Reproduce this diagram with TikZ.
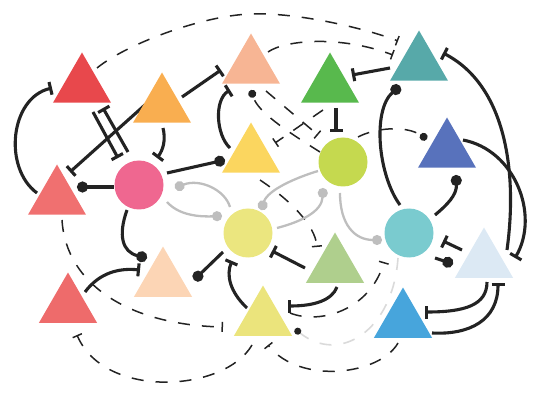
\documentclass[tikz,border=0pt]{standalone}
\usetikzlibrary{shapes.geometric,arrows.meta,calc}
\pgfdeclarelayer{bg}
\pgfsetlayers{bg,main}
\definecolor{cTa}{HTML}{E8484C}
\definecolor{cTb}{HTML}{F9AE50}
\definecolor{cTc}{HTML}{F7B594}
\definecolor{cTd}{HTML}{58B94D}
\definecolor{cTe}{HTML}{57A9A9}
\definecolor{cTf}{HTML}{FBD65F}
\definecolor{cTg}{HTML}{5872BC}
\definecolor{cTh}{HTML}{F07070}
\definecolor{cTi}{HTML}{FCD5B5}
\definecolor{cTj}{HTML}{EE6B6B}
\definecolor{cTk}{HTML}{AFCF8D}
\definecolor{cTl}{HTML}{EBE47C}
\definecolor{cTm}{HTML}{47A5DC}
\definecolor{cTn}{HTML}{DCE9F4}
\definecolor{cCa}{HTML}{EF6790}
\definecolor{cCb}{HTML}{C5D94F}
\definecolor{cCc}{HTML}{EBE67F}
\definecolor{cCd}{HTML}{7ACBCF}
\definecolor{edgecol}{HTML}{232323}
\definecolor{graycol}{HTML}{BEBEBE}
\definecolor{lgraycol}{HTML}{DADADA}
\tikzset{
  tri/.style={regular polygon, regular polygon sides=3, minimum size=67pt, inner sep=0pt, draw=none, fill=#1},
  circ/.style={circle, minimum size=49pt, inner sep=0pt, draw=none, fill=#1},
  inh/.style={line width=3.1pt, draw=edgecol, -{Bar[width=13pt]}},
  act/.style={line width=3.1pt, draw=edgecol, -{Circle[length=11pt]}},
  dinh/.style={line width=1.5pt, draw=edgecol, dash pattern=on 12pt off 12pt, -{Bar[width=10pt]}},
  dact/.style={line width=1.5pt, draw=edgecol, dash pattern=on 12pt off 12pt, -{Circle[length=8pt]}},
  gact/.style={line width=2.3pt, draw=graycol, -{Circle[length=10pt]}},
  lgact/.style={line width=1.6pt, draw=lgraycol, dash pattern=on 12pt off 12pt, -{Circle[length=7pt,color=edgecol,fill=edgecol]}},
}
\begin{document}
\begin{tikzpicture}[x=1pt,y=-1pt]
\useasboundingbox (0,0) rectangle (550,404);
% nodes
\node[tri=cTa] (T1) at (82,86) {};
\node[tri=cTb] (T2) at (162,106) {};
\node[tri=cTc] (T3) at (251,67) {};
\node[tri=cTd] (T4) at (330,86) {};
\node[tri=cTe] (T5) at (419,64) {};
\node[tri=cTf] (T6) at (251,156) {};
\node[tri=cTg] (T7) at (447,151) {};
\node[tri=cTh] (T8) at (57,198) {};
\node[tri=cTi] (T9) at (163,280) {};
\node[tri=cTj] (T10) at (68,306) {};
\node[tri=cTk] (T11) at (335,266) {};
\node[tri=cTl] (T12) at (263,319) {};
\node[tri=cTm] (T13) at (403,321) {};
\node[tri=cTn] (T14) at (484,261) {};
\node[circ=cCa] (C1) at (139,185) {};
\node[circ=cCb] (C2) at (343,162) {};
\node[circ=cCc] (C3) at (248,233) {};
\node[circ=cCd] (C4) at (409,233) {};
\begin{pgfonlayer}{bg}
% E1
\draw[inh] ($(T8)+(-20,-5)$) .. controls (3,168) and (10,98) .. ($(T1)+(-30,2)$);
% E2
\draw[inh] ($(T1)+(11,26)$) -- ($(C1)+(-21,-27)$);
\draw[inh] ($(C1)+(-11,-33)$) -- ($(T1)+(21,22)$);
% E3 E4 E5
\draw[inh] ($(T2)+(-16,-2)$) -- ($(T8)+(13,-26)$);
\draw[inh] ($(T2)+(20,-9)$) -- ($(T3)+(-30,3)$);
\draw[inh] ($(T2)+(1,22)$) .. controls (166,140) and (163,150) .. ($(C1)+(18,-27)$);
% E6 E7
\draw[act] ($(C1)+(-25,2)$) -- ($(T8)+(20,-11)$);
\draw[act] ($(C1)+(28,-12)$) -- ($(T6)+(-26,4)$);
% E8
\draw[inh] ($(T6)+(-21,-8)$) .. controls (216,135) and (214,100) .. ($(T3)+(-21,23)$);
% E9 E10 E11 E12
\draw[dact] ($(C2)+(-23,-10)$) .. controls (285,130) and (258,112) .. ($(T3)+(0,23)$);
\draw[dinh] ($(T3)+(15,24)$) -- ($(C2)+(-25,-27)$);
\draw[inh] ($(T4)+(6,22)$) -- ($(C2)+(-7,-30)$);
\draw[dinh] ($(T4)+(-7,24)$) -- ($(T6)+(24,-13)$);
% E13 E14
\draw[dact] ($(C2)+(15,-25)$) .. controls (375,128) and (405,125) .. ($(T7)+(-20,-12)$);
\draw[inh] ($(T5)+(-29,4)$) -- ($(T4)+(22,-11)$);
% E15 E16
\draw[dinh] ($(T1)+(15,-18)$) .. controls (125,45) and (200,16) .. (250,14) .. controls (300,12) and (370,30) .. ($(T5)+(-21,-23)$);
\draw[dinh] ($(T3)+(17,-15)$) .. controls (285,40) and (340,35) .. ($(T5)+(-26,-9)$);
% E17 E18 E19 E20
\draw[act] ($(C4)+(-9,-28)$) .. controls (378,175) and (372,110) .. ($(T5)+(-19,22)$);
\draw[inh] ($(T14)+(23,-11)$) .. controls (518,170) and (505,85) .. ($(T5)+(24,-11)$);
\draw[inh] ($(T7)+(16,-11)$) .. controls (515,150) and (540,215) .. ($(T14)+(31,-3)$);
\draw[act] ($(C4)+(26,-18)$) .. controls (447,205) and (457,195) .. ($(T7)+(9,24)$);
% E21 E22 E23 E24
\draw[inh] ($(T14)+(-22,-11)$) -- ($(C4)+(34,8)$);
\draw[act] ($(C4)+(26,25)$) -- ($(T14)+(-31,3)$);
\draw[inh] ($(T14)+(3,21)$) .. controls (487,305) and (465,312) .. ($(T13)+(22,-9)$);
\draw[inh] ($(T13)+(29,12)$) .. controls (470,335) and (498,320) .. ($(T14)+(14,22)$);
% E25 E26 E27 E28 E29
\draw[dinh] ($(T12)+(27,-6)$) .. controls (320,325) and (370,310) .. ($(C4)+(-25,29)$);
\draw[lgact] ($(C4)+(-11,25)$) .. controls (393,330) and (340,365) .. ($(T12)+(32,10)$);
\draw[dinh] ($(T13)+(-5,22)$) .. controls (380,375) and (300,385) .. ($(T12)+(5,26)$);
\draw[dinh] ($(T12)+(-11,26)$) .. controls (225,392) and (105,400) .. ($(T10)+(9,29)$);
\draw[dinh] ($(T8)+(5,22)$) .. controls (66,285) and (130,325) .. ($(T12)+(-40,8)$);
% E30 E31 E32
\draw[inh] ($(T10)+(17,-14)$) .. controls (100,272) and (120,268) .. ($(T9)+(-23,-10)$);
\draw[act] ($(C1)+(-12,25)$) .. controls (118,235) and (122,252) .. ($(T9)+(-16,-22)$);
\draw[act] ($(C3)+(-25,19)$) -- ($(T9)+(31,0)$);
% E33 E34 E35 E36
\draw[inh] ($(T12)+(-16,-11)$) .. controls (230,292) and (226,275) .. ($(C3)+(-16,28)$);
\draw[inh] ($(T11)+(-30,2)$) -- ($(C3)+(24,18)$);
\draw[inh] ($(T11)+(2,21)$) .. controls (332,300) and (315,306) .. ($(T12)+(25,-13)$);
\draw[dinh] ($(T6)+(9,24)$) .. controls (290,200) and (315,225) .. ($(T11)+(-18,-19)$);
% gray
\draw[gact] ($(C3)+(-18,-26)$) .. controls (225,190) and (200,178) .. ($(C1)+(36,3)$);
\draw[gact] ($(C1)+(28,17)$) .. controls (178,214) and (195,217) .. ($(C3)+(-26,-17)$);
\draw[gact] ($(C2)+(-25,9)$) .. controls (295,178) and (268,190) .. ($(C3)+(13,-23)$);
\draw[gact] ($(C3)+(29,-5)$) .. controls (300,222) and (322,212) .. ($(C2)+(-20,26)$);
\draw[gact] ($(C2)+(-3,31)$) .. controls (340,225) and (355,240) .. ($(C4)+(-27,7)$);
\end{pgfonlayer}
\end{tikzpicture}
\end{document}
